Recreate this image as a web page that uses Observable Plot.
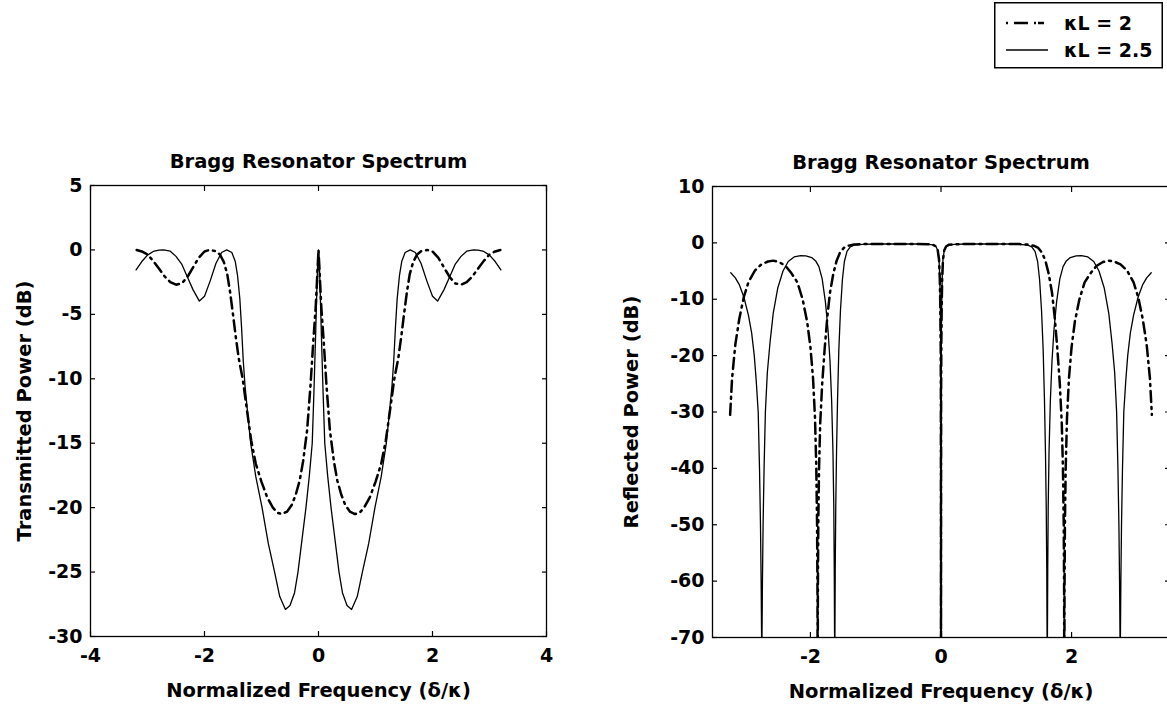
<!DOCTYPE html>
<html>
<head>
<meta charset="utf-8">
<script src="https://cdn.jsdelivr.net/npm/d3@7"></script>
<script src="https://cdn.jsdelivr.net/npm/@observablehq/plot@0.6"></script>
<style>
html, body { margin: 0; padding: 0; background: #fff; overflow: hidden; }
#root { position: relative; width: 1167px; height: 707px; overflow: hidden; background: #fff; }
.panel { position: absolute; }
.panel svg { max-width: none !important; overflow: visible; }
#legend { position: absolute; left: 994px; top: 2px; }
</style>
</head>
<body>
<div id="root">
  <div id="left" class="panel" style="left:0px; top:130px;"></div>
  <div id="right" class="panel" style="left:590px; top:130px;"></div>
  <div id="legend"></div>
</div>
<script>
// ---------- text ----------
const plotTitle = "Bragg Resonator Spectrum";
const xLabel = "Normalized Frequency (\u03B4/\u03BA)";
const yLabelTransmitted = "Transmitted Power (dB)";
const yLabelReflected = "Reflected Power (dB)";
const legendLabels = ["\u03BAL = 2", "\u03BAL = 2.5"];

// ---------- ticks ----------
const xTicksTransmitted = [-4, -2, 0, 2, 4];
const yTicksTransmitted = [-30, -25, -20, -15, -10, -5, 0, 5];
const xTicksReflected = [-2, 0, 2];
const yTicksReflected = [-70, -60, -50, -40, -30, -20, -10, 0, 10];

// ---------- data: [normalized frequency δ/κ, power dB] ----------
// Transmitted, κL = 2 (dash-dot)
const transmittedKL2 = [
  [-3.19,0],[-3.1,-0.12],[-3.0,-0.35],[-2.9,-0.85],[-2.8,-1.45],[-2.7,-2.05],[-2.6,-2.5],[-2.5,-2.7],
  [-2.4,-2.6],[-2.3,-2.1],[-2.2,-1.35],[-2.1,-0.6],[-2.0,-0.12],[-1.91,0],[-1.8,-0.1],[-1.73,-0.35],
  [-1.66,-0.95],[-1.6,-1.9],[-1.55,-3.3],[-1.5,-5],[-1.45,-6.8],[-1.4,-8.4],[-1.33,-10],[-1.25,-12.6],
  [-1.18,-14.8],[-1.1,-16.6],[-1.0,-18.0],[-0.9,-19.2],[-0.8,-20.0],[-0.72,-20.4],[-0.64,-20.5],
  [-0.55,-20.3],[-0.47,-19.8],[-0.4,-19.0],[-0.33,-17.9],[-0.27,-16.4],[-0.2,-14],[-0.14,-10.5],
  [-0.09,-7],[-0.05,-4.5],[-0.02,-1.8],[0,0],
  [0.02,-1.8],[0.05,-4.5],[0.09,-7],[0.14,-10.5],[0.2,-14],[0.27,-16.4],[0.33,-17.9],[0.4,-19.0],
  [0.47,-19.8],[0.55,-20.3],[0.64,-20.5],[0.72,-20.4],[0.8,-20.0],[0.9,-19.2],[1.0,-18.0],[1.1,-16.6],
  [1.18,-14.8],[1.25,-12.6],[1.33,-10],[1.4,-8.4],[1.45,-6.8],[1.5,-5],[1.55,-3.3],[1.6,-1.9],
  [1.66,-0.95],[1.73,-0.35],[1.8,-0.1],[1.91,0],[2.0,-0.12],[2.1,-0.6],[2.2,-1.35],[2.3,-2.1],
  [2.4,-2.6],[2.5,-2.7],[2.6,-2.5],[2.7,-2.05],[2.8,-1.45],[2.9,-0.85],[3.0,-0.35],[3.1,-0.12],[3.19,0]
];
// Transmitted, κL = 2.5 (solid)
const transmittedKL25 = [
  [-3.2,-1.55],[-3.1,-0.9],[-3.0,-0.4],[-2.9,-0.12],[-2.8,-0.01],[-2.72,0],[-2.6,-0.1],[-2.5,-0.5],
  [-2.4,-1.1],[-2.3,-2.1],[-2.2,-3.1],[-2.09,-3.97],[-2.0,-3.6],[-1.9,-2.4],[-1.8,-1.05],[-1.7,-0.2],
  [-1.61,0],[-1.52,-0.2],[-1.46,-0.9],[-1.42,-2.0],[-1.38,-3.8],[-1.35,-6],[-1.32,-8.6],[-1.29,-10.5],
  [-1.24,-12.8],[-1.19,-15],[-1.1,-17.6],[-0.99,-20],[-0.88,-22.8],[-0.77,-25],[-0.68,-26.9],
  [-0.58,-27.9],[-0.5,-27.6],[-0.42,-26.6],[-0.36,-25],[-0.29,-22.5],[-0.22,-20],[-0.16,-17.5],
  [-0.11,-15],[-0.08,-11],[-0.05,-6.5],[-0.03,-3.2],[-0.015,-1],[0,0],
  [0.015,-1],[0.03,-3.2],[0.05,-6.5],[0.08,-11],[0.11,-15],[0.16,-17.5],[0.22,-20],[0.29,-22.5],
  [0.36,-25],[0.42,-26.6],[0.5,-27.6],[0.58,-27.9],[0.68,-26.9],[0.77,-25],[0.88,-22.8],[0.99,-20],
  [1.1,-17.6],[1.19,-15],[1.24,-12.8],[1.29,-10.5],[1.32,-8.6],[1.35,-6],[1.38,-3.8],[1.42,-2.0],
  [1.46,-0.9],[1.52,-0.2],[1.61,0],[1.7,-0.2],[1.8,-1.05],[1.9,-2.4],[2.0,-3.6],[2.09,-3.97],
  [2.2,-3.1],[2.3,-2.1],[2.4,-1.1],[2.5,-0.5],[2.6,-0.1],[2.72,0],[2.8,-0.01],[2.9,-0.12],
  [3.0,-0.4],[3.1,-0.9],[3.2,-1.55]
];
// Reflected, κL = 2 (dash-dot)
const reflectedKL2 = [
  [-3.23,-30.5],[-3.2,-24],[-3.15,-18],[-3.09,-13.5],[-3.02,-9.6],[-2.95,-7],[-2.85,-4.9],[-2.75,-3.8],
  [-2.65,-3.3],[-2.57,-3.15],[-2.48,-3.4],[-2.38,-4.1],[-2.29,-5.4],[-2.2,-7],[-2.12,-10],[-2.05,-14],
  [-2.0,-18.5],[-1.96,-24],[-1.93,-31],[-1.91,-40],[-1.898,-50],[-1.892,-62],[-1.889,-85],[-1.886,-62],
  [-1.88,-50],[-1.868,-40],[-1.85,-32],[-1.82,-25],[-1.78,-18.5],[-1.74,-13],[-1.7,-8.8],[-1.65,-5.5],
  [-1.6,-3.2],[-1.55,-1.8],[-1.49,-0.9],[-1.42,-0.5],[-1.33,-0.3],[-1.2,-0.22],[-1.0,-0.2],[-0.8,-0.2],
  [-0.6,-0.2],[-0.4,-0.2],[-0.2,-0.25],[-0.12,-0.35],[-0.08,-0.6],[-0.05,-1.3],[-0.03,-3],[-0.018,-6.5],
  [-0.01,-11.5],[-0.005,-18],[-0.002,-26],[0,-85],
  [0.002,-26],[0.005,-18],[0.01,-11.5],[0.018,-6.5],[0.03,-3],[0.05,-1.3],[0.08,-0.6],[0.12,-0.35],
  [0.2,-0.25],[0.4,-0.2],[0.6,-0.2],[0.8,-0.2],[1.0,-0.2],[1.2,-0.22],[1.33,-0.3],[1.42,-0.5],
  [1.49,-0.9],[1.55,-1.8],[1.6,-3.2],[1.65,-5.5],[1.7,-8.8],[1.74,-13],[1.78,-18.5],[1.82,-25],
  [1.85,-32],[1.868,-40],[1.88,-50],[1.886,-62],[1.889,-85],[1.892,-62],[1.898,-50],[1.91,-40],
  [1.93,-31],[1.96,-24],[2.0,-18.5],[2.05,-14],[2.12,-10],[2.2,-7],[2.29,-5.4],[2.38,-4.1],
  [2.48,-3.4],[2.57,-3.15],[2.65,-3.3],[2.75,-3.8],[2.85,-4.9],[2.95,-7],[3.02,-9.6],[3.09,-13.5],
  [3.15,-18],[3.2,-24],[3.23,-30.5]
];
// Reflected, κL = 2.5 (solid)
const reflectedKL25 = [
  [-3.22,-5.3],[-3.15,-6.2],[-3.09,-7.4],[-3.02,-9.6],[-2.95,-12.8],[-2.9,-16],[-2.86,-20],[-2.83,-24.5],
  [-2.8,-30],[-2.78,-40],[-2.765,-50],[-2.755,-60],[-2.748,-70],[-2.745,-85],[-2.742,-70],[-2.735,-60],
  [-2.725,-50],[-2.71,-40],[-2.69,-30],[-2.66,-23],[-2.62,-17.8],[-2.57,-12.5],[-2.5,-8],[-2.42,-5],
  [-2.34,-3.3],[-2.25,-2.5],[-2.15,-2.25],[-2.07,-2.3],[-1.98,-2.6],[-1.92,-3.2],[-1.87,-4.2],[-1.82,-6.4],
  [-1.77,-10.5],[-1.73,-15.5],[-1.7,-21],[-1.675,-28],[-1.655,-37],[-1.642,-47],[-1.635,-58],[-1.63,-70],
  [-1.628,-85],[-1.625,-70],[-1.62,-58],[-1.612,-47],[-1.6,-37],[-1.585,-28],[-1.565,-19],[-1.54,-12],
  [-1.51,-6.5],[-1.48,-3.3],[-1.44,-1.5],[-1.39,-0.7],[-1.33,-0.4],[-1.2,-0.25],[-1.0,-0.2],[-0.8,-0.2],
  [-0.6,-0.2],[-0.4,-0.2],[-0.2,-0.25],[-0.12,-0.35],[-0.08,-0.6],[-0.05,-1.3],[-0.03,-3],[-0.018,-6.5],
  [-0.01,-11.5],[-0.005,-18],[-0.002,-26],[0,-85],
  [0.002,-26],[0.005,-18],[0.01,-11.5],[0.018,-6.5],[0.03,-3],[0.05,-1.3],[0.08,-0.6],[0.12,-0.35],
  [0.2,-0.25],[0.4,-0.2],[0.6,-0.2],[0.8,-0.2],[1.0,-0.2],[1.2,-0.25],[1.33,-0.4],[1.39,-0.7],
  [1.44,-1.5],[1.48,-3.3],[1.51,-6.5],[1.54,-12],[1.565,-19],[1.585,-28],[1.6,-37],[1.612,-47],
  [1.62,-58],[1.625,-70],[1.628,-85],[1.63,-70],[1.635,-58],[1.642,-47],[1.655,-37],[1.675,-28],
  [1.7,-21],[1.73,-15.5],[1.77,-10.5],[1.82,-6.4],[1.87,-4.2],[1.92,-3.2],[1.98,-2.6],[2.07,-2.3],
  [2.15,-2.25],[2.25,-2.5],[2.34,-3.3],[2.42,-5],[2.5,-8],[2.57,-12.5],[2.62,-17.8],[2.66,-23],
  [2.69,-30],[2.71,-40],[2.725,-50],[2.735,-60],[2.742,-70],[2.745,-85],[2.748,-70],[2.755,-60],
  [2.765,-50],[2.78,-40],[2.8,-30],[2.83,-24.5],[2.86,-20],[2.9,-16],[2.95,-12.8],[3.02,-9.6],
  [3.09,-7.4],[3.15,-6.2],[3.22,-5.3]
];

// ---------- styles ----------
const FONT = "DejaVu Sans";
const dashDot = "11,5,2,5";
const dashWidth = 2.5;
const solidWidth = 1.3;

function panel({width, height, margins, xDomain, yDomain, xTicks, yTicks, ylabel, ylabelDx, series}) {
  const fmt = d => String(d);
  const none = () => "";
  const labelStyle = {fontSize: 19.5, fontWeight: "bold", fill: "black", lineAnchor: "middle", textAnchor: "middle"};
  return Plot.plot({
    width, height,
    marginLeft: margins[0], marginRight: margins[1], marginTop: margins[2], marginBottom: margins[3],
    x: {domain: xDomain},
    y: {domain: yDomain},
    style: {fontFamily: FONT, fontSize: "19px", fontWeight: "bold", background: "transparent", overflow: "visible"},
    marks: [
      ...series.map(s => Plot.line(s.data, {
        x: d => d[0], y: d => d[1], stroke: "black",
        strokeWidth: s.width, strokeDasharray: s.dash, clip: true
      })),
      Plot.frame({stroke: "black", strokeWidth: 1.3}),
      Plot.axisX({ticks: xTicks, tickSize: -5, tickPadding: 17, tickFormat: fmt, label: null, strokeWidth: 1.2}),
      Plot.axisX({anchor: "top", ticks: xTicks, tickSize: -5, tickFormat: none, label: null, strokeWidth: 1.2}),
      Plot.axisY({ticks: yTicks, tickSize: -5, tickPadding: 13, tickFormat: fmt, label: null, strokeWidth: 1.2}),
      Plot.axisY({anchor: "right", ticks: yTicks, tickSize: -5, tickFormat: none, label: null, strokeWidth: 1.2}),
      Plot.text([plotTitle], {frameAnchor: "top", dy: -24, ...labelStyle}),
      Plot.text([xLabel], {frameAnchor: "bottom", dy: 54, ...labelStyle}),
      Plot.text([ylabel], {frameAnchor: "left", dx: ylabelDx, rotate: -90, ...labelStyle})
    ]
  });
}

const leftChart = panel({
  width: 580, height: 577, margins: [90, 34, 55, 71],
  xDomain: [-4, 4], yDomain: [-30, 5],
  xTicks: xTicksTransmitted, yTicks: yTicksTransmitted,
  ylabel: yLabelTransmitted, ylabelDx: -66,
  series: [
    {data: transmittedKL2, dash: dashDot, width: dashWidth},
    {data: transmittedKL25, dash: null, width: solidWidth}
  ]
});
document.getElementById("left").appendChild(leftChart);

const rightChart = panel({
  width: 600, height: 577, margins: [122, 21, 56, 70],
  xDomain: [-3.5, 3.5], yDomain: [-70, 10],
  xTicks: xTicksReflected, yTicks: yTicksReflected,
  ylabel: yLabelReflected, ylabelDx: -81,
  series: [
    {data: reflectedKL2, dash: dashDot, width: dashWidth},
    {data: reflectedKL25, dash: null, width: solidWidth}
  ]
});
document.getElementById("right").appendChild(rightChart);

// ---------- legend ----------
const ns = "http://www.w3.org/2000/svg";
const lg = document.createElementNS(ns, "svg");
lg.setAttribute("width", 172);
lg.setAttribute("height", 68);
lg.innerHTML = `
  <rect x="0.75" y="0.75" width="167.5" height="65" fill="white" stroke="black" stroke-width="1.5"/>
  <line x1="12" y1="21" x2="54" y2="21" stroke="black" stroke-width="${dashWidth}" stroke-dasharray="2,6,14,6,2"/>
  <line x1="12" y1="48" x2="54" y2="48" stroke="black" stroke-width="${solidWidth}"/>
  <text x="70" y="21" dy="0.36em" font-family="${FONT}" font-weight="bold" font-size="19">${legendLabels[0]}</text>
  <text x="70" y="48" dy="0.36em" font-family="${FONT}" font-weight="bold" font-size="19">${legendLabels[1]}</text>`;
document.getElementById("legend").appendChild(lg);
</script>
</body>
</html>
